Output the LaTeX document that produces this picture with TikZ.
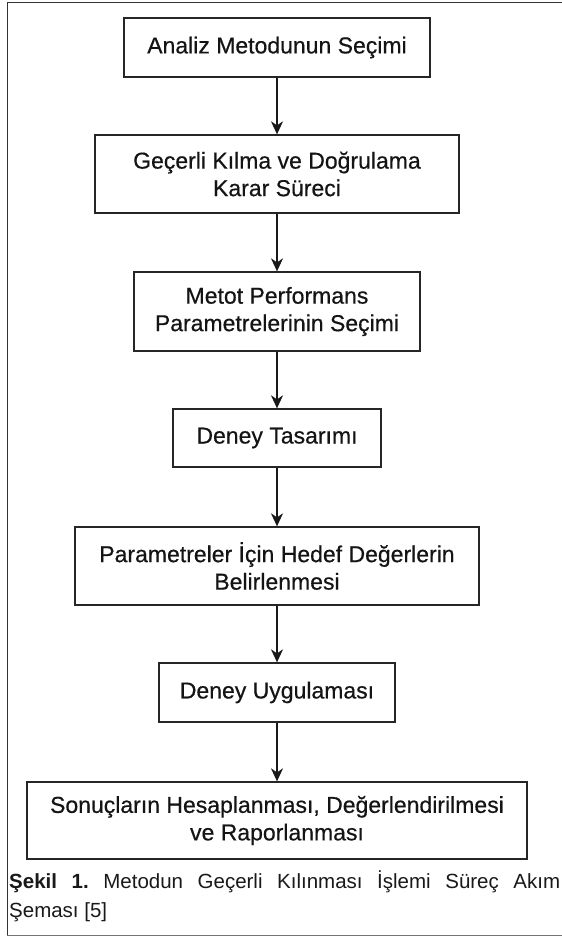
\documentclass[tikz,border=0pt]{standalone}
\usepackage{fontspec}
\usepackage{graphicx}
\setmainfont{Liberation Sans}
\newfontfamily\boxfont[FakeBold=0.5]{Liberation Sans}
\usetikzlibrary{arrows.meta}
\begin{document}
\frenchspacing
\begin{tikzpicture}[x=1pt,y=-1pt,
  box/.style 2 args={draw=black!85, line width=1.3pt, fill=white,
    minimum width=#1pt, minimum height=#2pt, inner sep=0pt, align=center,
    font=\boxfont\fontsize{23}{27.5}\selectfont, text=black!92},
  flow/.style={-{Stealth[length=13pt,width=12pt,inset=4pt]}, line width=1.4pt, draw=black!90},
  captext/.style={inner sep=0pt, font=\fontsize{20.5}{24}\selectfont, text=black!90}]
\useasboundingbox (0,0) rectangle (562,937);
% frame
\draw[line width=1.6pt, black!80] (562,2.5) -- (7,2.5);
\draw[line width=1pt, black!80] (7,2.5) -- (7,935);
\draw[line width=1pt, black!55] (7,935) -- (562,935);
% boxes
\node[box={306}{59}] (b1) at (277,47.5) {Analiz Metodunun Seçimi};
\node[box={364}{78}] (b2) at (277,174) {Geçerli Kılma ve Doğrulama\\Karar Süreci};
\node[box={286}{79}] (b3) at (277,311.5) {Metot Performans\\Parametrelerinin Seçimi};
\node[box={208}{58}] (b4) at (277,438) {Deney Tasarımı};
\node[box={404}{78}] (b5) at (277,566) {Parametreler İçin Hedef Değerlerin\\Belirlenmesi};
\node[box={236}{59}] (b6) at (277,692.5) {Deney Uygulaması};
\node[box={500}{77}] (b7) at (277,820.5) {Sonuçların Hesaplanması, Değerlendirilmesi\\ve Raporlanması};
% arrows
\draw[flow] (b1.south) -- (b2.north);
\draw[flow] (b2.south) -- (b3.north);
\draw[flow] (b3.south) -- (b4.north);
\draw[flow] (b4.south) -- (b5.north);
\draw[flow] (b5.south) -- (b6.north);
\draw[flow] (b6.south) -- (b7.north);
% caption
\node[captext, anchor=base west] (c1) at (9,888) {\makebox[551pt][s]{\textbf{Şekil 1.} Metodun Geçerli Kılınması İşlemi Süreç Akım}};
\node[captext, anchor=base west] (c2) at (9,917) {Şeması [5]};
\end{tikzpicture}
\end{document}
